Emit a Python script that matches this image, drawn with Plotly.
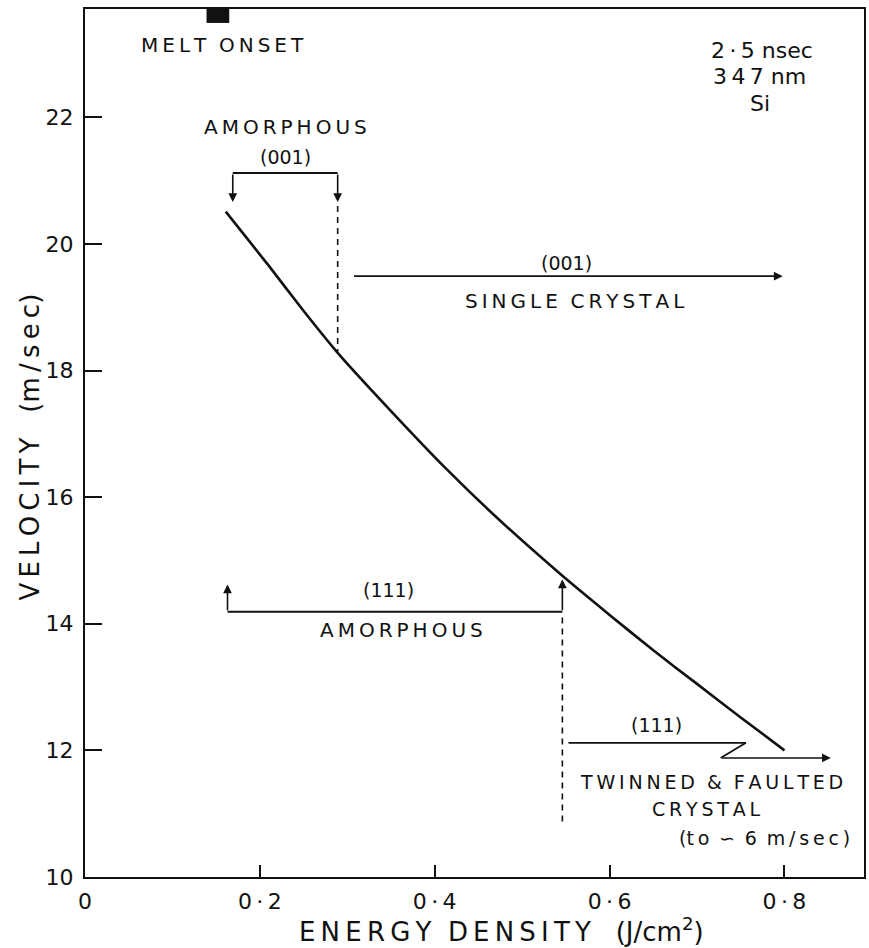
import plotly.graph_objects as go

# Curve: velocity vs energy density
energy = [0.161, 0.211, 0.249, 0.289, 0.350, 0.413, 0.470, 0.545, 0.600,
          0.650, 0.700, 0.750, 0.800]
velocity = [20.51, 19.64, 18.96, 18.28, 17.36, 16.45, 15.69, 14.77, 14.14,
            13.58, 13.05, 12.52, 12.00]

x_ticks = [0, 0.2, 0.4, 0.6, 0.8]
x_tick_text = ["0", "0\u2009·\u20092", "0\u2009·\u20094", "0\u2009·\u20096", "0\u2009·\u20098"]
y_ticks = [10, 12, 14, 16, 18, 20, 22]
y_tick_text = ["10", "12", "14", "16", "18", "20", "22"]

# regime boundaries (J/cm2)
melt_onset = [0.139, 0.165]
e001_amorph = [0.169, 0.289]
e111_amorph = [0.163, 0.546]

FONT = "DejaVu Sans"
BLACK = "#111111"
TS = "\u2009"


def ls(s, gap="  "):
    """letter-spaced text (thin spaces between letters)"""
    words = s.split(" ")
    return gap.join(TS.join(w) for w in words)


fig = go.Figure()
fig.add_trace(go.Scatter(x=energy, y=velocity, mode="lines",
                         line=dict(color=BLACK, width=2.6, shape="spline", smoothing=0.5),
                         showlegend=False, hoverinfo="skip"))

shapes = []
annots = []


def seg(x0, y0, x1, y1, dash="solid", w=1.8):
    shapes.append(dict(type="line", xref="x", yref="y", x0=x0, y0=y0, x1=x1, y1=y1,
                       line=dict(color=BLACK, width=w, dash=dash)))


def arrow(x0, y0, x1, y1, w=1.6):
    annots.append(dict(x=x1, y=y1, ax=x0, ay=y0, xref="x", yref="y", axref="x", ayref="y",
                       showarrow=True, arrowhead=2, arrowsize=1.1, arrowwidth=w,
                       arrowcolor=BLACK, text=""))


def txt(x, y, s, size=18, **kw):
    annots.append(dict(x=x, y=y, xref="x", yref="y", text=s, showarrow=False,
                       xanchor="center", yanchor="middle",
                       font=dict(family=FONT, size=size, color=BLACK), **kw))


# melt onset marker
shapes.append(dict(type="rect", xref="x", yref="y", x0=melt_onset[0], x1=melt_onset[1],
                   y0=23.49, y1=23.71, fillcolor=BLACK, line=dict(width=0)))
txt(0.157, 23.14, ls("MELT ONSET"), 20)

# top-right info
txt(0.774, 23.06, "2\u2009·\u20095 nsec", 22)
txt(0.772, 22.64, "3\u20094\u20097 nm", 22)
txt(0.772, 22.22, "Si", 22)

# (001) amorphous bracket
seg(e001_amorph[0], 21.12, e001_amorph[1], 21.12)
arrow(e001_amorph[0], 21.12, e001_amorph[0], 20.66)
arrow(e001_amorph[1], 21.12, e001_amorph[1], 20.66)
seg(e001_amorph[1], 20.6, e001_amorph[1], 18.3, dash="6px,5px", w=1.6)
txt(0.229, 21.85, ls("AMORPHOUS"), 20)
txt(0.229, 21.38, "(001)", 19)

# (001) single crystal arrow
arrow(0.306, 19.49, 0.798, 19.49)
txt(0.551, 19.70, "(001)", 19)
txt(0.561, 19.10, ls("SINGLE CRYSTAL"), 20)

# (111) amorphous bracket
seg(e111_amorph[0], 14.19, e111_amorph[1], 14.19)
arrow(e111_amorph[0], 14.19, e111_amorph[0], 14.62)
arrow(e111_amorph[1], 14.19, e111_amorph[1], 14.70)
seg(e111_amorph[1], 14.10, e111_amorph[1], 10.85, dash="6px,5px", w=1.6)
txt(0.347, 14.53, "(111)", 19)
txt(0.362, 13.90, ls("AMORPHOUS"), 20)

# (111) twinned arrow with zig-zag
seg(0.553, 12.12, 0.756, 12.12)
seg(0.756, 12.12, 0.727, 11.88)
arrow(0.727, 11.88, 0.853, 11.88)
txt(0.654, 12.40, "(111)", 19)
txt(0.716, 11.50, ls("TWINNED & FAULTED"), 19)
txt(0.711, 11.08, ls("CRYSTAL"), 19)
txt(0.777, 10.62, "(" + ls("to ∽ 6 m/sec)", gap=" \u2009"), 19)

# axis titles
annots.append(dict(x=0.476, y=-0.061, xref="x", yref="paper", showarrow=False,
                   xanchor="center", yanchor="middle",
                   text=ls("ENERGY DENSITY") + "   (J/cm<sup>2</sup>)",
                   font=dict(family=FONT, size=26, color=BLACK)))
annots.append(dict(x=-0.07, y=16.79, xref="paper", yref="y", showarrow=False,
                   xanchor="center", yanchor="middle",
                   text=ls("VELOCITY") + "   (" + TS.join("m/sec") + ")", textangle=-90,
                   font=dict(family=FONT, size=26, color=BLACK)))

fig.update_layout(
    width=869, height=948,
    margin=dict(l=85, r=3, t=9, b=71),
    paper_bgcolor="white", plot_bgcolor="white",
    shapes=shapes, annotations=annots,
    showlegend=False,
    xaxis=dict(range=[0, 0.891], tickvals=x_ticks, ticktext=x_tick_text,
               ticks="inside", ticklen=12, tickwidth=2, tickcolor=BLACK,
               showline=True, linecolor=BLACK, linewidth=2, mirror=True,
               showgrid=False, zeroline=False, ticklabelstandoff=4,
               tickfont=dict(family=FONT, size=22, color=BLACK)),
    yaxis=dict(range=[10, 23.71], tickvals=y_ticks, ticktext=y_tick_text,
               ticks="inside", ticklen=17, tickwidth=2, tickcolor=BLACK,
               showline=True, linecolor=BLACK, linewidth=2, mirror=True,
               showgrid=False, zeroline=False, ticklabelstandoff=5,
               tickfont=dict(family=FONT, size=22, color=BLACK)),
)

fig.write_html("out.html")
